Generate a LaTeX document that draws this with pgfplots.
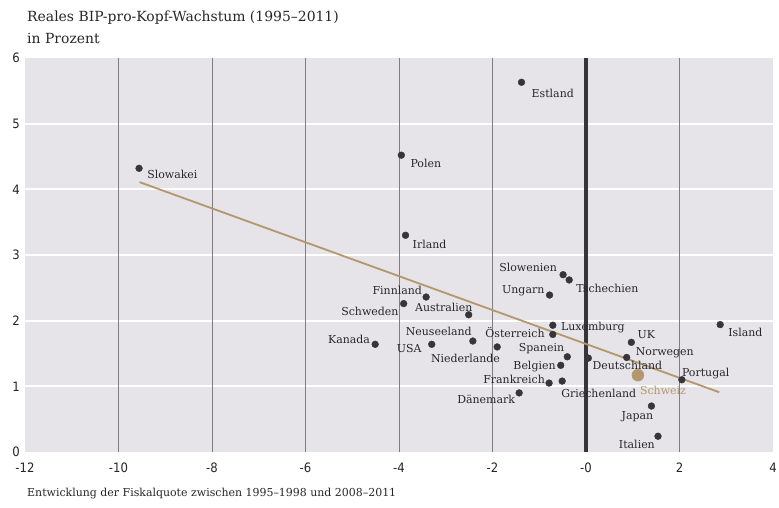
\documentclass[border=0pt]{standalone}
\usepackage{pgfplots}
\pgfplotsset{compat=1.18}
\usepackage{fontspec}
\setmainfont{DejaVu Serif}
\newfontfamily\tickfont{DejaVu Sans Condensed}
\definecolor{bg}{RGB}{230,228,233}
\definecolor{dotc}{RGB}{55,53,58}
\definecolor{tanc}{RGB}{178,152,108}
\definecolor{gridc}{RGB}{125,125,130}
\definecolor{txt}{RGB}{38,38,42}
\tikzset{lbl/.style={font=\fontsize{11}{13}\selectfont, text=txt, inner sep=0pt}}
\begin{document}
\begin{tikzpicture}
\path[use as bounding box] (-25bp,-56bp) rectangle (754bp,452bp);
\begin{axis}[
  at={(0,0)}, anchor=south west,
  scale only axis, width=748bp, height=394bp,
  xmin=-12, xmax=4, ymin=0, ymax=6,
  axis line style={draw=none},
  axis background/.style={fill=bg},
  xtick={-12,-10,...,4},
  xticklabels={-12,-10,-8,-6,-4,-2,-0,2,4},
  ytick={0,1,...,6},
  tick style={draw=none},
  xticklabel style={font=\tickfont\fontsize{13}{15}\selectfont, text=txt, anchor=center, yshift=-16bp},
  yticklabel style={font=\tickfont\fontsize{13}{15}\selectfont, text=txt, anchor=center, xshift=-9bp},
  /pgf/number format/assume math mode=true,
  clip=false,
]
% white horizontal grid lines
\draw[white, line width=2bp] (axis cs:-12,1) -- (axis cs:4,1);
\draw[white, line width=2bp] (axis cs:-12,2) -- (axis cs:4,2);
\draw[white, line width=2bp] (axis cs:-12,3) -- (axis cs:4,3);
\draw[white, line width=2bp] (axis cs:-12,4) -- (axis cs:4,4);
\draw[white, line width=2bp] (axis cs:-12,5) -- (axis cs:4,5);
% vertical grid lines
\draw[gridc, line width=0.8bp] (axis cs:-10,0) -- (axis cs:-10,6);
\draw[gridc, line width=0.8bp] (axis cs:-8,0) -- (axis cs:-8,6);
\draw[gridc, line width=0.8bp] (axis cs:-6,0) -- (axis cs:-6,6);
\draw[gridc, line width=0.8bp] (axis cs:-4,0) -- (axis cs:-4,6);
\draw[gridc, line width=0.8bp] (axis cs:-2,0) -- (axis cs:-2,6);
\draw[gridc, line width=0.8bp] (axis cs:2,0) -- (axis cs:2,6);
\draw[dotc, line width=4bp] (axis cs:0,0) -- (axis cs:0,6);
% trend line
\addplot[tanc, line width=1.8bp, no markers] coordinates {(-9.55,4.11) (2.85,0.91)};
% countries
\addplot[only marks, mark=*, mark size=3.4bp, dotc] table {
x y
-9.56 4.32
-1.38 5.63
-3.95 4.52
-3.86 3.30
-0.49 2.70
-0.36 2.62
-0.78 2.39
-3.42 2.36
-3.90 2.26
-2.51 2.09
-0.71 1.93
-0.71 1.79
-4.51 1.64
-3.30 1.64
-2.42 1.69
-1.90 1.60
-0.40 1.45
-0.54 1.32
-0.79 1.05
-0.51 1.08
-1.43 0.90
0.05 1.43
0.97 1.67
0.87 1.44
2.05 1.10
2.87 1.94
1.40 0.70
1.54 0.24
};
\addplot[only marks, mark=*, mark size=6bp, tanc] coordinates {(1.11,1.17)};
% labels
\node[lbl, anchor=west] at ([shift={(8bp,-6bp)}]axis cs:-9.56,4.32) {Slowakei};
\node[lbl, anchor=west] at ([shift={(10bp,-11bp)}]axis cs:-1.38,5.63) {Estland};
\node[lbl, anchor=west] at ([shift={(9bp,-8bp)}]axis cs:-3.95,4.52) {Polen};
\node[lbl, anchor=west] at ([shift={(7bp,-9bp)}]axis cs:-3.86,3.30) {Irland};
\node[lbl, anchor=east] at ([shift={(-6bp,7bp)}]axis cs:-0.49,2.70) {Slowenien};
\node[lbl, anchor=west] at ([shift={(7bp,-8bp)}]axis cs:-0.36,2.62) {Tschechien};
\node[lbl, anchor=east] at ([shift={(-5bp,4bp)}]axis cs:-0.78,2.39) {Ungarn};
\node[lbl, anchor=east] at ([shift={(-4bp,7bp)}]axis cs:-3.42,2.36) {Finnland};
\node[lbl, anchor=east] at ([shift={(-5bp,-8bp)}]axis cs:-3.90,2.26) {Schweden};
\node[lbl, anchor=east] at ([shift={(4bp,7bp)}]axis cs:-2.51,2.09) {Australien};
\node[lbl, anchor=west] at ([shift={(8bp,-2bp)}]axis cs:-0.71,1.93) {Luxemburg};
\node[lbl, anchor=east] at ([shift={(-8bp,2bp)}]axis cs:-0.71,1.79) {Österreich};
\node[lbl, anchor=east] at ([shift={(-5bp,5bp)}]axis cs:-4.51,1.64) {Kanada};
\node[lbl, anchor=east] at ([shift={(-10bp,-4bp)}]axis cs:-3.30,1.64) {USA};
\node[lbl, anchor=east] at ([shift={(-1bp,10bp)}]axis cs:-2.42,1.69) {Neuseeland};
\node[lbl, anchor=east] at ([shift={(3bp,-11bp)}]axis cs:-1.90,1.60) {Niederlande};
\node[lbl, anchor=east] at ([shift={(-3bp,8bp)}]axis cs:-0.40,1.45) {Spanein};
\node[lbl, anchor=east] at ([shift={(-5bp,-1bp)}]axis cs:-0.54,1.32) {Belgien};
\node[lbl, anchor=east] at ([shift={(-4bp,4bp)}]axis cs:-0.79,1.05) {Frankreich};
\node[lbl, anchor=west] at ([shift={(-1bp,-12bp)}]axis cs:-0.51,1.08) {Griechenland};
\node[lbl, anchor=east] at ([shift={(-4bp,-6bp)}]axis cs:-1.43,0.90) {Dänemark};
\node[lbl, anchor=west] at ([shift={(4bp,-7bp)}]axis cs:0.05,1.43) {Deutschland};
\node[lbl, anchor=west] at ([shift={(6bp,8bp)}]axis cs:0.97,1.67) {UK};
\node[lbl, anchor=west] at ([shift={(9bp,5bp)}]axis cs:0.87,1.44) {Norwegen};
\node[lbl, anchor=west, text=tanc] at ([shift={(2bp,-15bp)}]axis cs:1.11,1.17) {Schweiz};
\node[lbl, anchor=west] at ([shift={(0bp,6bp)}]axis cs:2.05,1.10) {Portugal};
\node[lbl, anchor=west] at ([shift={(8bp,-8bp)}]axis cs:2.87,1.94) {Island};
\node[lbl, anchor=east] at ([shift={(2bp,-11bp)}]axis cs:1.40,0.70) {Japan};
\node[lbl, anchor=east] at ([shift={(-3bp,-8bp)}]axis cs:1.54,0.24) {Italien};
\end{axis}
\node[anchor=base west, inner sep=0, text=txt, font=\fontsize{14}{16}\selectfont] at (2bp,430bp) {Reales BIP-pro-Kopf-Wachstum (1995–2011)};
\node[anchor=base west, inner sep=0, text=txt, font=\fontsize{14}{16}\selectfont] at (2bp,408bp) {in Prozent};
\node[anchor=base west, inner sep=0, text=txt, font=\fontsize{11}{13}\selectfont] at (2bp,-44bp) {Entwicklung der Fiskalquote zwischen 1995–1998 und 2008–2011};
\end{tikzpicture}
\end{document}
